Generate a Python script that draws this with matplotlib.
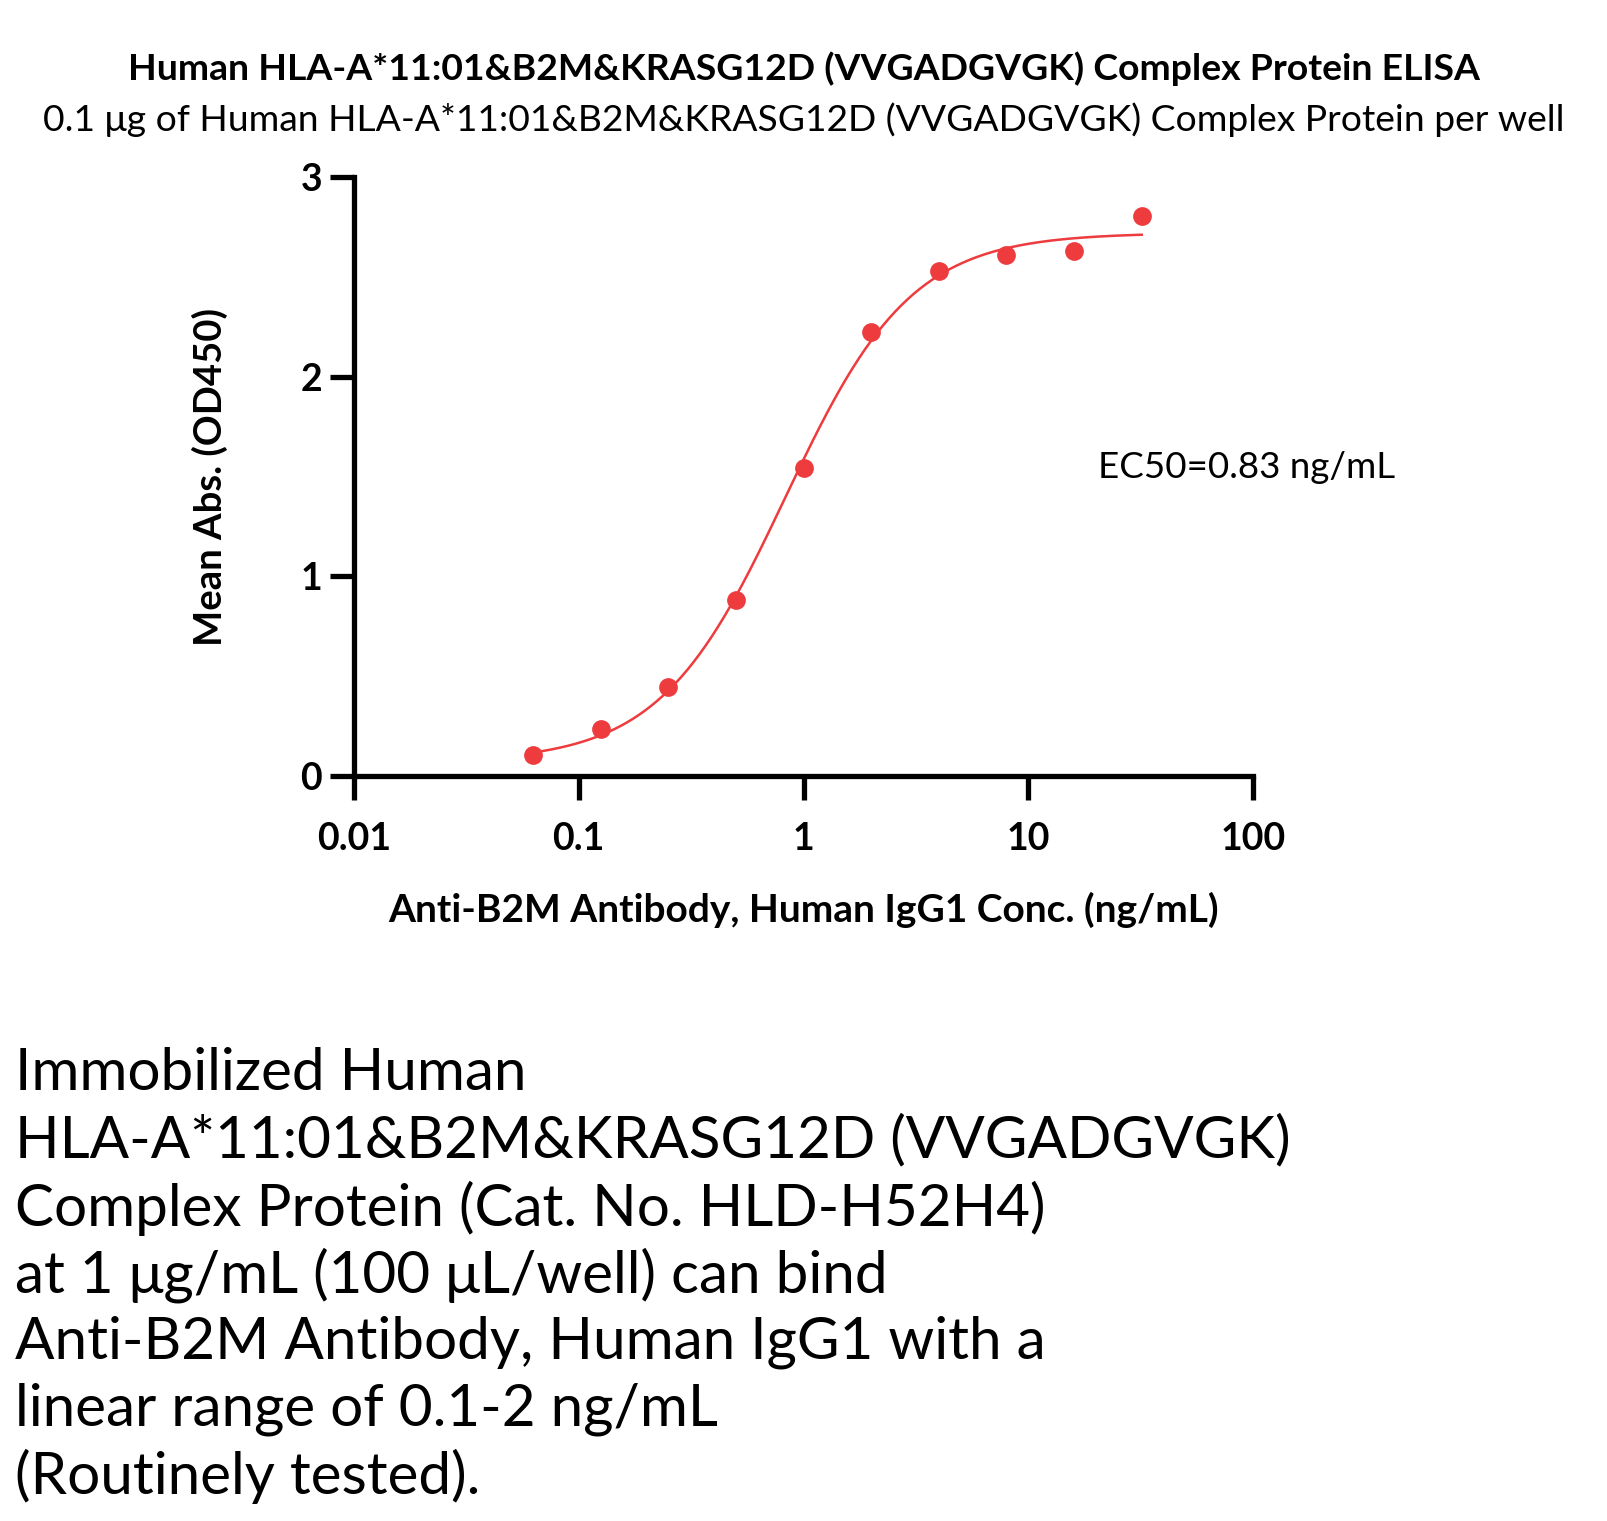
import numpy as np
import matplotlib
matplotlib.use("Agg")
import matplotlib.pyplot as plt
from matplotlib.ticker import FixedLocator, NullLocator

# ---- data ----
conc = [0.0625, 0.125, 0.25, 0.5, 1, 2, 4, 8, 16, 32]
od450 = [0.103, 0.236, 0.447, 0.883, 1.541, 2.224, 2.527, 2.609, 2.630, 2.804]
# 4PL fit parameters
fit_bottom = 0.07
fit_top = 2.72
fit_ec50 = 0.83
fit_hill = 1.55
x_ticks = [0.01, 0.1, 1, 10, 100]
x_ticklabels = ["0.01", "0.1", "1", "10", "100"]
y_ticks = [0, 1, 2, 3]

title = "Human HLA-A*11:01&B2M&KRASG12D (VVGADGVGK) Complex Protein ELISA"
subtitle = "0.1 \u03bcg of Human HLA-A*11:01&B2M&KRASG12D (VVGADGVGK) Complex Protein per well"
xlabel = "Anti-B2M Antibody, Human IgG1 Conc. (ng/mL)"
ylabel = "Mean Abs. (OD450)"
ec50_text = "EC50=0.83 ng/mL"
desc_lines = [
    "Immobilized Human",
    "HLA-A*11:01&B2M&KRASG12D (VVGADGVGK)",
    "Complex Protein (Cat. No. HLD-H52H4)",
    "at 1 \u03bcg/mL (100 \u03bcL/well) can bind",
    "Anti-B2M Antibody, Human IgG1 with a",
    "linear range of 0.1-2 ng/mL",
    "(Routinely tested).",
]

FONT = ["Lato", "DejaVu Sans"]
plt.rcParams["font.family"] = FONT
RED = "#EE3B3E"

W, H = 1608, 1521
fig = plt.figure(figsize=(W / 100, H / 100), dpi=100)

ax = fig.add_axes([354 / W, 1 - 776 / H, (1253 - 354) / W, (776 - 177) / H])
ax.set_xscale("log")
ax.set_xlim(0.01, 100)
ax.set_ylim(0, 3)

xs = np.logspace(np.log10(conc[0]), np.log10(conc[-1]), 300)
ys = fit_bottom + (fit_top - fit_bottom) / (1 + (fit_ec50 / xs) ** fit_hill)
ax.plot(xs, ys, color=RED, lw=1.8, zorder=3)
ax.plot(conc, od450, "o", color=RED, ms=13.5, mec="none", zorder=4, clip_on=False)

for s in ["top", "right"]:
    ax.spines[s].set_visible(False)
for s in ["left", "bottom"]:
    ax.spines[s].set_linewidth(3.8)
    ax.spines[s].set_capstyle("projecting")

ax.xaxis.set_major_locator(FixedLocator(x_ticks))
ax.xaxis.set_minor_locator(NullLocator())
ax.set_xticklabels(x_ticklabels)
ax.set_yticks(y_ticks)
ax.tick_params(axis="x", length=17, width=3.8, pad=16, labelsize=27)
ax.tick_params(axis="y", length=17, width=3.8, pad=6, labelsize=27)
for lab in ax.get_xticklabels() + ax.get_yticklabels():
    lab.set_fontweight("bold")

ax.set_xlabel(xlabel, fontsize=28, fontweight="bold", labelpad=26)
ax.set_ylabel(ylabel, fontsize=27.5, fontweight="bold", labelpad=52)

ax.text(1098 / W, 1 - 468 / H, ec50_text, transform=fig.transFigure,
        fontsize=26.5, ha="left", va="center")

fig.text(0.5, 1 - 69 / H, title, ha="center", va="center", fontsize=26.9, fontweight="bold")
fig.text(0.5, 1 - 120 / H, subtitle, ha="center", va="center", fontsize=26.8)

y0 = 1074
for i, line in enumerate(desc_lines):
    fig.text(15 / W, 1 - (y0 + i * 67) / H, line, ha="left", va="center", fontsize=42)

fig.savefig("out.png", dpi=100, facecolor="white")
